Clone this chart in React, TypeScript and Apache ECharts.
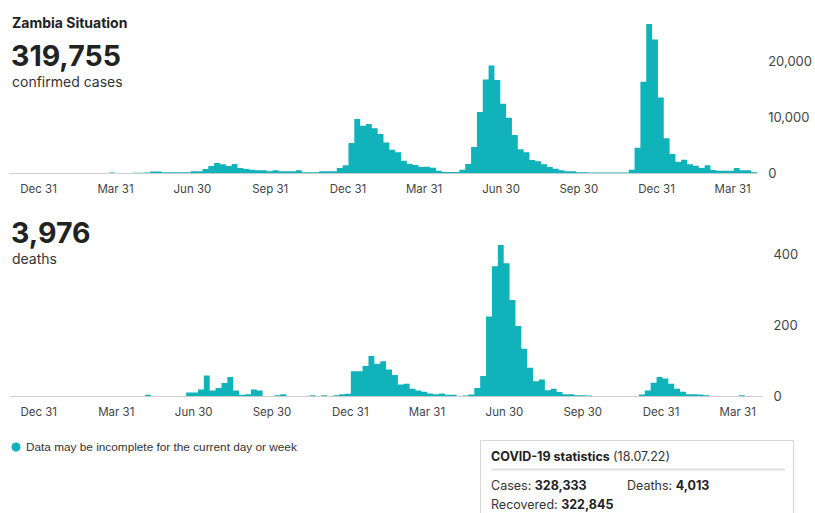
import React, { useEffect, useRef } from "react";
import * as echarts from "echarts";

// ---------- data ----------
const weekCount = 128;
const firstWeekStart = Date.UTC(2019, 10, 25);
const weeks: string[] = Array.from({ length: weekCount }, (_, i) =>
  new Date(firstWeekStart + i * 7 * 86400000).toISOString().slice(0, 10)
);

const cases: number[] = [
  0, 0, 0, 0, 0, 0, 0, 0, 0, 0, 0, 0, 0, 0, 0, 0, 0,
  150, 20, 20, 30, 120, 120, 130, 300, 300, 180, 180, 180, 170, 180, 360, 350,
  770, 1300, 1840, 1600, 1300, 1660, 950, 770, 650, 530, 530, 356, 530, 360, 350, 360, 530, 180, 180, 180, 360, 350, 360, 950, 1420,
  5400, 9650, 8480, 8780, 8000, 7000, 5500, 4210, 3740, 2250, 1660, 1480, 1130, 1180, 1000,
  470, 240, 240, 240, 650, 1650, 4680, 10900, 16700, 19200, 16600, 12400, 9900, 6800, 4260, 3730, 2370, 2130, 1600, 1120, 830, 530, 350, 350, 180, 180,
  150, 150, 150, 150, 150, 150, 150,
  650, 4560, 16300, 26560, 23830, 13500, 6220, 3430, 2070, 2430, 1600, 1360, 940, 1420, 590, 470, 470, 470, 940, 530, 530, 180,
];

const deaths: number[] = [
  0, 0, 0, 0, 0, 0, 0, 0, 0, 0, 0, 0, 0, 0, 0, 0, 0, 0, 0, 0, 0, 0, 0,
  4, 0, 0, 0, 0, 0, 0,
  11, 11, 19, 58, 16, 23, 37, 54, 16, 4, 6, 19, 16, 0, 0, 3, 6, 0, 0, 0, 0, 3, 0, 3, 0, 3, 6, 7,
  70, 70, 85, 113, 91, 98, 75, 60, 33, 35, 21, 16, 13, 8, 6, 8, 4, 4, 0,
  2, 5, 23, 57, 224, 365, 424, 373, 270, 197, 133, 80, 42, 47, 17, 21, 12, 6, 6, 3, 3, 2,
  0, 0, 0, 0, 0, 0, 0, 0,
  5, 16, 38, 54, 50, 35, 21, 13, 6, 6, 5, 3, 0, 0, 0, 0, 0, 3, 0, 0, 0,
];

const axisStartDate = "2019-11-27";
const axisDays = 884;
const tickDates = [
  "2019-12-31", "2020-03-31", "2020-06-30", "2020-09-30", "2020-12-31",
  "2021-03-31", "2021-06-30", "2021-09-30", "2021-12-31", "2022-03-31",
];
const caseTickLabels = ["Dec 31", "Mar 31", "Jun 30", "Sep 31", "Dec 31", "Mar 31", "Jun 30", "Sep 30", "Dec 31", "Mar 31"];
const deathTickLabels = ["Dec 31", "Mar 31", "Jun 30", "Sep 30", "Dec 31", "Mar 31", "Jun 30", "Sep 30", "Dec 31", "Mar 31"];

const caseMax = 27000;
const caseStep = 10000;
const deathMax = 440;
const deathStep = 200;

const totalCases = "319,755";
const totalDeaths = "3,976";
const statsDate = "(18.07.22)";
const statCases = "328,333";
const statDeaths = "4,013";
const statRecovered = "322,845";

// ---------- styling ----------
const TEAL = "#10b3b9";
const FONT = "Inter, 'Noto Sans', sans-serif";
const DAY = 86400000;
const tickDays = tickDates.map((d) => Math.round((Date.parse(d) - Date.parse(axisStartDate)) / DAY));

function fmt(n: number) {
  return n.toLocaleString("en-US");
}

function labelAxis(gridIndex: number, labels: string[]) {
  return {
    type: "value",
    gridIndex,
    position: "bottom",
    min: 0,
    max: axisDays,
    axisLine: { show: false },
    axisTick: { show: false },
    splitLine: { show: false },
    axisLabel: {
      customValues: tickDays,
      margin: 10,
      color: "#444",
      fontSize: 11.5,
      fontFamily: FONT,
      formatter: (v: number) => {
        const i = tickDays.indexOf(Math.round(v));
        return i >= 0 ? labels[i] : "";
      },
    },
  };
}

function catAxis(gridIndex: number) {
  return {
    type: "category",
    gridIndex,
    position: "bottom",
    data: weeks,
    boundaryGap: true,
    axisLine: { show: true, lineStyle: { color: "#cfcfcf", width: 1 } },
    axisTick: { show: false },
    axisLabel: { show: false },
    splitLine: { show: false },
  };
}

function valAxis(gridIndex: number, max: number, step: number) {
  return {
    type: "value",
    gridIndex,
    position: "right",
    min: 0,
    max,
    interval: step,
    axisLine: { show: false },
    axisTick: { show: false },
    splitLine: { show: false },
    axisLabel: {
      margin: 11,
      color: "#444",
      fontSize: 13,
      fontFamily: FONT,
      formatter: (v: number) => (v % step === 0 ? fmt(v) : ""),
    },
  };
}

const rich = {
  b: { font: `bold 12.5px ${FONT}`, fill: "#222" },
  n: { font: `12.5px ${FONT}`, fill: "#333" },
};

function barSeries(xAxisIndex: number, yAxisIndex: number, data: number[]) {
  return {
    type: "bar",
    xAxisIndex,
    yAxisIndex,
    data,
    barCategoryGap: "0%",
    large: true,
    largeThreshold: 1,
    itemStyle: { color: TEAL },
  };
}

export default function App() {
  const ref = useRef<HTMLDivElement>(null);

  useEffect(() => {
    if (!ref.current) return;
    const chart = echarts.init(ref.current, undefined, { renderer: "svg" });
    chart.setOption({
      animation: false,
      backgroundColor: "#fff",
      grid: [
        { left: 9.8, right: 52.6, top: 21.6, height: 151.7 },
        { left: 9.8, right: 52.6, top: 239.4, height: 156.9 },
      ],
      xAxis: [catAxis(0), labelAxis(0, caseTickLabels), catAxis(1), labelAxis(1, deathTickLabels)],
      yAxis: [valAxis(0, caseMax, caseStep), valAxis(1, deathMax, deathStep)],
      series: [barSeries(0, 0, cases), barSeries(2, 1, deaths)],
      graphic: [
        { type: "text", x: 12, y: 22, style: { text: "Zambia Situation", font: `bold 14px ${FONT}`, fill: "#222", verticalAlign: "middle" } },
        { type: "text", x: 11, y: 55.5, style: { text: totalCases, font: `bold 28.5px ${FONT}`, fill: "#222", verticalAlign: "middle" } },
        { type: "text", x: 12, y: 81, style: { text: "confirmed cases", font: `14px ${FONT}`, fill: "#333", verticalAlign: "middle" } },
        { type: "text", x: 11, y: 232.5, style: { text: totalDeaths, font: `bold 28.5px ${FONT}`, fill: "#222", verticalAlign: "middle" } },
        { type: "text", x: 12, y: 258.5, style: { text: "deaths", font: `14px ${FONT}`, fill: "#333", verticalAlign: "middle" } },
        { type: "circle", shape: { cx: 16, cy: 447, r: 4.5 }, style: { fill: TEAL } },
        { type: "text", x: 26, y: 447, style: { text: "Data may be incomplete for the current day or week", font: `11.8px 'Liberation Sans', Arial, sans-serif`, fill: "#333", verticalAlign: "middle" } },
        { type: "rect", shape: { x: 480.5, y: 440.5, width: 313, height: 100 }, style: { fill: "#fff", stroke: "#d6d6d6", lineWidth: 1 } },
        {
          type: "text",
          x: 491,
          y: 456,
          style: { text: `{b|COVID-19 statistics} {n|${statsDate}}`, verticalAlign: "middle", rich },
        },
        { type: "line", shape: { x1: 491, y1: 469.5, x2: 785, y2: 469.5 }, style: { stroke: "#e2e2e2", lineWidth: 2 } },
        {
          type: "text",
          x: 491,
          y: 485,
          style: { text: `{n|Cases: }{b|${statCases}}`, verticalAlign: "middle", rich },
        },
        {
          type: "text",
          x: 627,
          y: 485,
          style: { text: `{n|Deaths: }{b|${statDeaths}}`, verticalAlign: "middle", rich },
        },
        {
          type: "text",
          x: 491,
          y: 504,
          style: { text: `{n|Recovered: }{b|${statRecovered}}`, verticalAlign: "middle", rich },
        },
      ],
    });
    return () => chart.dispose();
  }, []);

  return (
    <div style={{ position: "absolute", left: 0, top: 0, width: 815, height: 513, background: "#fff" }}>
      <div ref={ref} style={{ width: 815, height: 513 }} />
    </div>
  );
}
